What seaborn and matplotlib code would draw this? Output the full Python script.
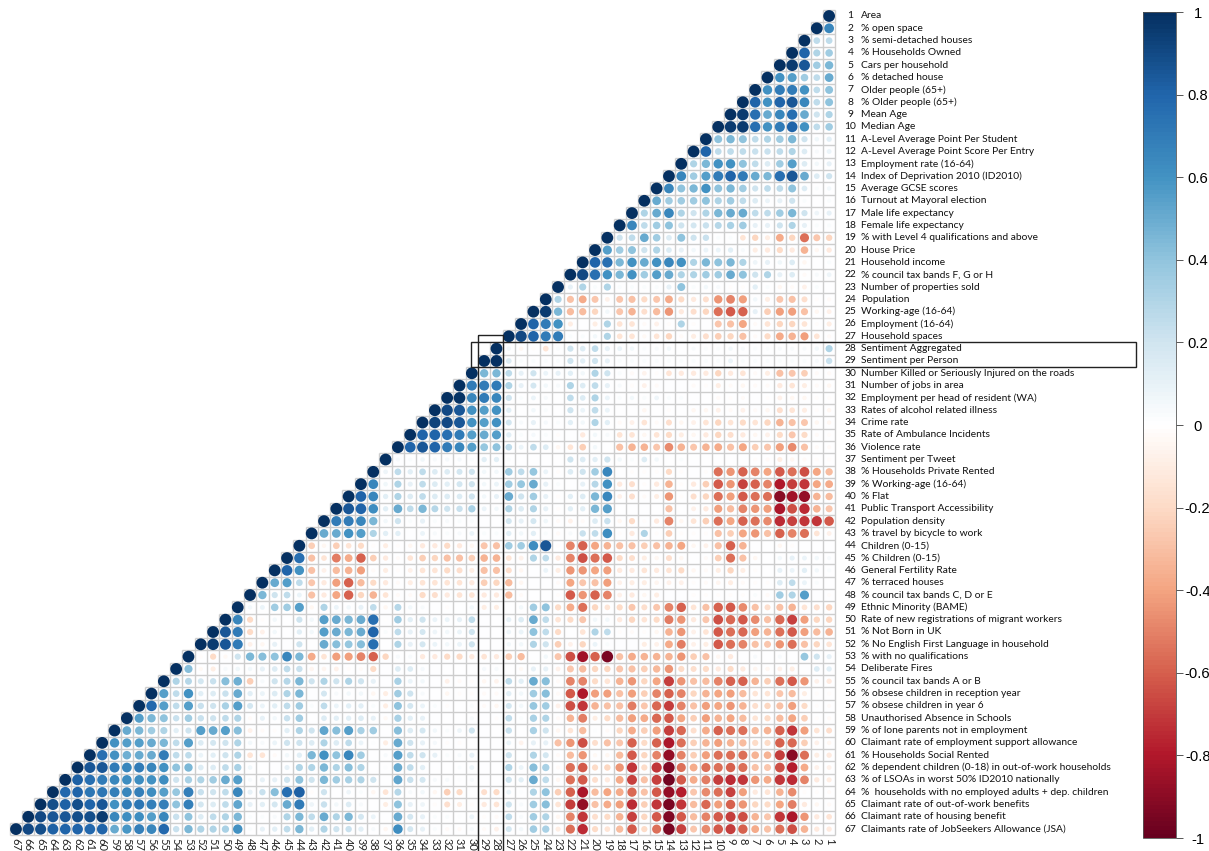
import matplotlib
matplotlib.use("Agg")
import matplotlib.pyplot as plt
from matplotlib.colors import LinearSegmentedColormap
from matplotlib.patches import Rectangle
import numpy as np
import pandas as pd
import seaborn as sns

# Correlation x100; each row reads left to right, from the diagonal to column 1
r01 = [100]
r02 = [100, 65]
r03 = [100, 25, 25]
r04 = [100, 80, 30, 35]
r05 = [100, 95, 85, 35, 45]
r06 = [100, 60, 55, 35, 25, 50]
r07 = [100, 60, 70, 70, 60, 25, 40]
r08 = [100, 80, 60, 80, 85, 65, 25, 40]
r09 = [100, 95, 75, 50, 65, 75, 50, 20, 30]
r10 = [100, 95, 95, 75, 60, 70, 80, 60, 25, 35]
r11 = [100, 40, 45, 40, 25, 30, 35, 45, 20, 6, 12]
r12 = [100, 80, 25, 25, 25, 22, 22, 25, 30, 15, 3, 8]
r13 = [100, 30, 45, 60, 60, 40, 25, 15, 35, 55, 15, 5, 10]
r14 = [100, 65, 35, 55, 70, 80, 70, 50, 45, 75, 85, 50, 15, 20]
r15 = [100, 65, 40, 45, 60, 40, 45, 35, 20, 25, 25, 40, 15, 2, 5]
r16 = [100, 50, 35, 35, 35, 40, 30, 35, 25, 15, 8, 10, 20, 2, 0, 2]
r17 = [100, 30, 50, 65, 30, 20, 30, 45, 50, 50, 25, 25, 35, 45, 20, 7, 10]
r18 = [100, 65, 25, 35, 40, 20, 18, 22, 28, 32, 35, 10, 10, 20, 30, 10, 2, 2]
r19 = [100, 20, 25, 50, 35, 15, 40, 20, 22, 2, 2, -15, -22, -10, -38, -22, -55, -28, -22]
r20 = [100, 55, 35, 40, 20, 30, 15, 10, 5, 8, 8, 12, 3, -10, -12, -20, -12, -35, -5, -12]
r21 = [100, 80, 75, 45, 60, 50, 60, 65, 60, 30, 45, 40, 45, 30, 7, 10, 6, 15, -5, 0, 2]
r22 = [100, 90, 75, 60, 45, 60, 35, 55, 50, 30, 30, 35, 35, 50, 40, 20, 30, 10, 15, -3, 3, 7]
r23 = [100, 10, 30, 2, 30, 2, 2, 2, 2, 10, 40, 2, 5, 3, -2, -2, 12, 2, -5, -3, -8, 2, 0]
r24 = [100, 30, -30, -38, -28, -8, -28, -30, -20, -28, -38, -20, -12, -18, -45, -50, -42, 5, -10, -28, -30, -18, -2, -3]
r25 = [100, 95, 45, -32, -32, -22, 5, -28, -35, -18, -32, -45, -12, -18, -22, -55, -62, -60, 10, -25, -42, -42, -30, -5, -8]
r26 = [100, 80, 70, 60, -10, 0, -10, 30, -15, -15, -3, -8, -2, 30, -2, 0, -28, -30, -40, -3, -15, -22, -22, -15, -2, -10]
r27 = [100, 90, 80, 70, 70, 2, 2, 5, 30, -15, -15, -4, -15, -22, -3, -10, -18, -25, -22, -30, -3, -20, -38, -35, -42, -15, -3]
r28 = [100, 5, -5, -2, -15, 2, 20, 15, 25, 10, 8, 5, 2, 3, 5, 0, 3, 2, 2, 5, 3, 2, 2, 3, 3, 3, 5, 30]
r29 = [100, 100, 15, 2, 2, 2, 2, 20, 12, 20, 10, 2, 2, 2, 2, 2, 2, 2, 2, 2, 8, 2, 2, 2, 2, 2, 2, 3, 22]
r30 = [100, 45, 45, 25, 10, 20, 8, 10, 12, 5, 30, 20, 2, -3, -7, -2, -15, -12, -12, -12, -22, -12, -15, -3, -10, -30, -28, -25, -3, -3]
r31 = [100, 70, 70, 70, 30, 10, 18, 5, 3, 30, 15, 25, 10, 3, -2, -8, -3, 0, 0, -3, -2, -10, -3, -5, -3, -3, -12, -15, -10, -3, -5]
r32 = [100, 98, 65, 70, 65, 20, 2, 8, 3, 0, 25, 15, 30, 8, 2, 5, 2, 7, 2, 2, 0, 0, -3, -2, -3, 0, -2, -8, -5, -5, -2, -2]
r33 = [100, 90, 85, 60, 55, 60, 12, 0, 5, 2, 0, 20, 8, 25, 8, 0, 0, -5, 0, -2, 0, -5, -5, -8, -3, -8, -3, -5, -18, -15, -10, -2, -5]
r34 = [100, 92, 90, 85, 60, 55, 60, 18, 3, 10, 4, 2, 12, 5, 30, 12, -3, -8, -15, -3, -18, -5, -8, -15, -22, -15, -20, -15, -22, -35, -30, -28, -5, -5]
r35 = [100, 80, 80, 75, 70, 55, 50, 55, 12, 2, 4, 2, -2, 0, -12, 5, 3, -15, -15, -5, -15, -20, -10, -5, -12, -22, -18, -12, -5, -8, -20, -28, -20, -3, -2]
r36 = [100, 80, 85, 80, 70, 65, 55, 38, 40, 25, 8, 25, 15, -5, -15, -25, 5, 0, -30, -35, -35, -28, -48, -35, -28, -35, -38, -30, -40, -25, -28, -42, -48, -30, -3, -3]
r37 = [100, 3, 2, 6, 3, 4, 4, 2, 12, 12, 2, 0, 0, 0, 0, 20, 15, 12, 20, 5, 2, 15, 5, 0, 2, 0, 0, 0, 0, 0, -2, -3, -10, -5, -3, -2, -2]
r38 = [100, 7, 25, 12, 25, 15, 15, 18, 20, 5, 5, 35, 25, 38, 8, -2, 15, 20, 35, 65, 0, -2, -2, -2, -20, -2, 0, -2, -55, -45, -60, -50, -40, -62, -55, -65, -40, -32]
r39 = [100, 65, 6, 30, 10, 25, 15, 12, 18, 20, 5, 8, 35, 38, 50, 10, 2, 0, 10, 28, 60, -12, -18, -2, -12, -35, -2, -12, -25, -62, -45, -68, -60, -50, -80, -70, -72, -40, -38]
r40 = [100, 80, 65, 12, 30, 15, 25, 15, 15, 15, 20, 5, 10, 50, 20, 35, 10, -2, 12, 15, 45, 65, -8, -18, -3, -10, -45, -2, -18, -22, -55, -42, -62, -55, -55, -90, -85, -88, -35, -32]
r41 = [100, 85, 80, 62, 12, 50, 25, 45, 28, 20, 22, 32, 8, 5, 30, 15, 30, 10, -2, 12, 12, 45, 55, 0, 0, 0, 0, -30, 0, -8, -12, -42, -32, -50, -45, -42, -82, -65, -75, -35, -28]
r42 = [100, 70, 70, 65, 45, 5, 20, 2, 10, 2, 3, 2, 2, 0, 0, 18, 10, 18, 6, -3, -8, -3, 15, 22, -5, -20, -2, -12, -50, -5, -15, -25, -55, -40, -60, -55, -48, -75, -68, -72, -72, -62]
r43 = [100, 50, 50, 60, 55, 30, 12, 12, 0, 8, 3, 2, 3, 8, 2, 2, 12, 5, 12, 2, -3, 3, 22, 25, 62, -2, -12, 30, -2, -25, -2, -2, -2, -30, -25, -40, -45, -30, -60, -50, -55, -15, -8]
r44 = [100, -25, -5, -25, -15, -20, -2, -10, -2, -5, -12, -12, -20, -12, -5, -28, -30, 35, 35, 62, 85, -2, -50, -60, -40, -35, -30, -30, -25, -30, -35, -40, -5, -8, -30, -60, -35, 0, 0, -5, -2, 0, 0, 0]
r45 = [100, 75, -30, -15, -52, -38, -60, -25, -12, -3, -15, -25, -22, -30, -30, -25, -35, -35, -15, -8, 30, 25, -12, -50, -65, -55, -62, -20, -18, -10, -5, -18, -5, 0, -3, -25, -55, -30, -5, 0, 5, 10, 8, 5, 3]
r46 = [100, 80, 60, -30, -8, -32, -35, -42, -3, -10, -2, -8, -15, -15, -20, -18, -10, -30, -30, -18, -5, 0, 8, -10, -45, -45, -40, -42, -12, -12, -15, -12, -15, -20, -5, -3, -10, -22, -10, -2, 0, 10, 8, 12, 5, 2]
r47 = [100, 50, 55, 25, -28, -12, -42, -60, -32, -20, -12, -3, -10, -15, -15, -15, -15, -12, -25, -22, -32, -5, 0, 0, -3, -40, -28, -30, -42, -8, -10, -10, -6, -8, -8, -2, -3, -6, -10, -3, -2, -2, 15, 25, 8, 2, 0]
r48 = [100, 45, 20, 25, 8, -30, -12, -40, -60, -22, -35, -15, -3, -3, -20, -18, -12, -15, -15, -12, -12, -32, -3, 0, 0, -2, -62, -45, -60, -50, -8, -12, -5, -10, 0, 0, -2, -2, -2, -2, -2, 2, -3, 35, 30, 55, 0, -2]
r49 = [100, 5, 8, 35, 35, 55, -5, 30, 8, 5, 10, 25, -5, 28, 5, 3, 0, -2, 0, 5, -10, -10, 0, 5, 35, 40, -20, -38, -55, -22, -15, -20, -28, -18, -28, -50, -60, -15, -30, -60, -62, -48, -30, -18, -30, -35, -15, -18, -22]
r50 = [100, 65, -20, -2, 5, 0, 20, 5, 55, 50, 45, 50, 75, -1, 35, 12, 20, 8, 8, 10, 25, 0, 0, 10, 15, 50, 25, -15, -20, -28, 5, 5, -12, -22, -15, -20, -52, -45, -12, -28, -65, -58, -62, -48, -30, -58, -68, -42, -22, -22]
r51 = [100, 85, 70, -20, -8, 5, 0, 12, 5, 55, 50, 45, 50, 80, 2, 25, 10, 18, 7, 5, 8, 20, 0, 0, 7, 8, 40, 25, -20, 0, -15, 30, 25, -2, -3, -2, -5, -35, -45, -8, -15, -62, -55, -58, -42, -35, -55, -62, -42, -32, -35]
r52 = [100, 95, 85, 70, -8, -5, 10, 0, 20, 0, 50, 42, 38, 42, 75, 0, 30, 10, 18, 8, 5, 8, 20, 0, 0, 5, 5, 30, 20, -25, -8, -22, 8, 2, 0, 0, -10, -8, -38, -52, -8, -10, -62, -55, -50, -30, -28, -45, -55, -30, -22, -15]
r53 = [100, -2, -20, -4, 20, 45, 42, 40, 65, 45, -38, -15, -42, -42, -50, -60, -22, 3, 3, -12, -12, -20, -20, -12, -15, -12, -25, -32, 0, 5, -28, -65, -85, -60, -95, -30, -38, -35, -35, -35, -45, -25, -30, -5, -12, 0, 3, 0, 3, 0, 38, 20, 10]
r54 = [100, 42, -4, -10, 3, 6, 5, 10, 15, 25, 22, -6, -6, -8, -2, -3, -20, 0, 15, 15, 4, 0, 0, 0, 0, 4, 3, 0, -4, 10, 10, -8, -28, -32, -22, -22, -28, -30, -25, -33, -45, -20, -18, -20, -12, -20, -12, -6, -5, -8, -10, 0, 15, 12]
r55 = [100, 30, 28, 18, 22, 42, 48, -25, 3, 20, 28, 45, 20, 30, 20, 30, 20, 10, 0, 32, 8, 5, 0, -8, -3, -2, -5, -7, 25, 12, 50, 42, -3, -50, -50, -20, -15, -35, -45, -22, -40, -70, -45, -30, -32, -50, -60, -60, -35, -25, -55, -62, -45, -8, -12]
r56 = [100, 55, 25, 60, 12, 15, 22, 50, 12, 8, 15, 30, 45, 0, 18, 3, 5, 5, -5, -10, 35, 20, 3, 0, -5, -2, -2, -3, -3, 12, 5, 35, 42, -3, -62, -80, -42, -42, -30, -42, -25, -50, -60, -50, -22, -35, -40, -42, -32, -15, -15, -28, -32, -10, -2, -2]
r57 = [100, 78, 55, 25, 55, 22, 20, 32, 55, 18, 8, 12, 25, 35, 2, 25, 8, 12, 12, 2, -10, 40, 18, 8, 2, -2, 0, 2, -3, -5, 18, 5, 38, 35, -8, -65, -72, -35, -30, -30, -52, -28, -58, -70, -50, -30, -42, -40, -45, -35, -18, -22, -30, -42, -20, -2, -3]
r58 = [100, 55, 45, 40, 22, 35, 22, 20, 25, 30, -3, 10, 5, 22, 35, 0, 15, 12, 12, 15, 10, -4, 32, 12, 10, 0, 0, 0, 3, 0, -2, 25, 2, 32, 30, -3, -35, -52, -10, -20, -32, -42, -38, -58, -62, -40, -25, -42, -35, -40, -32, -15, -20, -32, -40, -25, -2, -3]
r59 = [100, 50, 45, 35, 30, 12, 20, 55, 50, 55, 42, -8, -3, -2, 12, 30, 20, 52, 42, 55, 32, 35, 0, 42, 15, 18, 5, 2, 7, 20, 0, 0, 22, 0, 32, 20, -5, -15, -32, 1, -3, -22, -38, -25, -42, -70, -58, -18, -38, -60, -55, -55, -32, -35, -60, -72, -42, -15, -18]
r60 = [100, 60, 55, 55, 50, 45, 25, 55, 15, 18, 20, 30, 5, 3, 8, 20, 20, 15, 30, 15, 25, 8, 1, -10, 50, 20, 10, 4, -2, -2, 0, 0, 0, 8, -7, 10, 10, -30, -45, -65, -18, -30, -28, -60, -20, -60, -82, -55, -25, -35, -42, -35, -32, -20, -20, -60, -58, -25, -8, -5]
r61 = [100, 75, 60, 48, 50, 50, 70, 25, 25, 8, 12, 20, 30, -15, -15, -3, 5, 12, 45, 60, 40, 65, 35, 0, 3, 55, 25, 20, 10, 2, 3, 10, 0, 0, 20, 0, 30, 18, -3, -32, -45, -4, -5, -32, -62, -22, -50, -88, -50, -25, -42, -55, -55, -55, -35, -35, -70, -90, -55, -10, -12]
r62 = [100, 85, 85, 70, 65, 70, 65, 60, 40, 45, 15, 15, 25, 32, 6, 0, 0, 10, 30, 30, 45, 30, 42, 30, 0, 1, 50, 25, 12, 0, 0, 2, 8, 0, 0, 30, 8, 42, 32, -3, -55, -62, -20, -22, -45, -72, -20, -72, -92, -55, -38, -55, -55, -60, -55, -30, -28, -65, -78, -38, -8, -8]
r63 = [100, 82, 75, 70, 65, 62, 62, 60, 62, 20, 32, 30, 35, 50, 55, 3, 10, 10, 20, 40, 20, 45, 35, 32, 30, 20, 0, 52, 22, 18, 3, 3, 1, 3, 0, 0, 20, 12, 50, 25, -5, -55, -62, -18, -12, -38, -68, -30, -68, -97, -62, -38, -52, -70, -75, -72, -45, -38, -72, -75, -50, -12, -10]
r64 = [100, 78, 80, 72, 72, 68, 65, 68, 62, 55, 38, 68, 22, 20, 25, 65, 10, 22, 42, 75, 82, -2, 20, 0, 7, 2, -5, -15, 28, 3, 5, -5, -25, -20, 0, -18, -20, 8, 1, 30, 40, -25, -60, -82, -32, -40, -38, -58, -30, -62, -88, -78, -28, -48, -55, -68, -42, -12, -15, -35, -48, -2, -2, -3]
r65 = [100, 88, 82, 88, 80, 85, 60, 70, 72, 68, 68, 40, 68, 18, 15, 25, 52, 10, 12, 18, 50, 70, 7, 22, 5, 15, 3, 0, -10, 40, 10, 7, -2, -18, -10, -2, -12, -15, 20, 3, 35, 42, -15, -70, -88, -30, -38, -42, -75, -25, -72, -95, -72, -32, -58, -42, -60, -45, -22, -20, -40, -52, -12, -5, -3]
r66 = [100, 90, 85, 85, 88, 88, 95, 65, 62, 62, 55, 65, 22, 40, 15, 25, 30, 45, 2, 2, 3, 30, 45, 25, 50, 30, 45, 18, 8, 0, 50, 18, 10, 2, 2, 1, 8, -2, -3, 25, 3, 35, 30, -5, -50, -72, -18, -20, -35, -68, -22, -62, -92, -62, -32, -50, -62, -70, -65, -35, -28, -72, -82, -45, -12, -15]
r67 = [100, 90, 88, 82, 80, 80, 78, 80, 50, 58, 68, 65, 78, 22, 45, 30, 30, 32, 60, 2, 10, 12, 25, 45, 12, 30, 20, 22, 12, 3, -5, 62, 18, 10, 2, -3, -3, 3, -3, -8, 18, 5, 35, 32, -10, -55, -75, -20, -15, -32, -62, -20, -55, -95, -68, -28, -48, -62, -70, -60, -38, -30, -55, -65, -35, -12, -12]

rows = [r01, r02, r03, r04, r05, r06, r07, r08, r09, r10, r11, r12, r13, r14, r15, r16, r17, r18, r19, r20,
        r21, r22, r23, r24, r25, r26, r27, r28, r29, r30, r31, r32, r33, r34, r35, r36, r37, r38, r39, r40,
        r41, r42, r43, r44, r45, r46, r47, r48, r49, r50, r51, r52, r53, r54, r55, r56, r57, r58, r59, r60,
        r61, r62, r63, r64, r65, r66, r67]

labels = ["Area", "% open space", "% semi-detached houses", "% Households Owned", "Cars per household",
          "% detached house", "Older people (65+)", "% Older people (65+)", "Mean Age", "Median Age",
          "A-Level Average Point Per Student", "A-Level Average Point Score Per Entry", "Employment rate (16-64)",
          "Index of Deprivation 2010 (ID2010)", "Average GCSE scores", "Turnout at Mayoral election",
          "Male life expectancy", "Female life expectancy", "% with Level 4 qualifications and above",
          "House Price", "Household income", "% council tax bands F, G or H", "Number of properties sold",
          "Population", "Working-age (16-64)", "Employment (16-64)", "Household spaces", "Sentiment Aggregated",
          "Sentiment per Person", "Number Killed or Seriously Injured on the roads", "Number of jobs in area",
          "Employment per head of resident (WA)", "Rates of alcohol related illness", "Crime rate",
          "Rate of Ambulance Incidents", "Violence rate", "Sentiment per Tweet", "% Households Private Rented",
          "% Working-age (16-64)", "% Flat", "Public Transport Accessibility", "Population density",
          "% travel by bicycle to work", "Children (0-15)", "% Children (0-15)", "General Fertility Rate",
          "% terraced houses", "% council tax bands C, D or E", "Ethnic Minority (BAME)",
          "Rate of new registrations of migrant workers", "% Not Born in UK", "% No English First Language in household",
          "% with no qualifications", "Deliberate Fires", "% council tax bands A or B",
          "% obsese children in reception year", "% obsese children in year 6", "Unauthorised Absence in Schools",
          "% of lone parents not in employment", "Claimant rate of employment support allowance",
          "% Households Social Rented", "% dependent children (0-18) in out-of-work households",
          "% of LSOAs in worst 50% ID2010 nationally", "%  households with no employed adults + dep. children",
          "Claimant rate of out-of-work benefits", "Claimant rate of housing benefit",
          "Claimants rate of JobSeekers Allowance (JSA)"]

cbar_ticks = [1, 0.8, 0.6, 0.4, 0.2, 0, -0.2, -0.4, -0.6, -0.8, -1]
cbar_tick_text = ["1", "0.8", "0.6", "0.4", "0.2", "0", "-0.2", "-0.4", "-0.6", "-0.8", "-1"]

bad = [(i + 1, len(r)) for i, r in enumerate(rows) if len(r) != i + 1]
if bad:
    raise SystemExit(f"row length mismatch: {bad}")

n = len(rows)
W, H = 1209, 851
FONT = "Lato"
sns.set_theme(style="white")
plt.rcParams["font.family"] = FONT

cmap = LinearSegmentedColormap.from_list(
    "corr", ["#67001F", "#B2182B", "#D6604D", "#F4A582", "#FDDBC7", "#FFFFFF",
             "#D1E5F0", "#92C5DE", "#4393C3", "#2166AC", "#053061"], N=200)

records = []
for i, row in enumerate(rows, start=1):
    for k, v in enumerate(row):
        col = i - k
        records.append({"x": n - col + 0.5, "y": i - 0.5, "r": v / 100, "size": abs(v) / 100})
df = pd.DataFrame(records)

fig = plt.figure(figsize=(W / 100, H / 100), dpi=100, facecolor="white")
CELL = 12.32
L, T = 9.84, 9.84
ax = fig.add_axes([L / W, 1 - (T + n * CELL) / H, n * CELL / W, n * CELL / H])
cax = fig.add_axes([1143.3 / W, 1 - 838 / H, 32.4 / W, 826 / H])

mask = np.ones((n, n), dtype=bool)
for i in range(n):
    for j in range(n):
        if n - 1 - j <= i:
            mask[i, j] = False

sns.heatmap(np.zeros((n, n)), mask=mask, cmap=cmap, vmin=-1, vmax=1, square=False,
            cbar=True, cbar_ax=cax, xticklabels=False, yticklabels=False, ax=ax)

# Cell borders of the triangle only
GRID = dict(color="#CDCDCD", linewidth=1.0, zorder=2, clip_on=False)
for k in range(n + 1):
    ax.hlines(k, max(n - k - 1, 0), n, **GRID)
    ax.vlines(k, max(n - k - 1, 0), n, **GRID)

sns.scatterplot(data=df, x="x", y="y", hue="r", palette=cmap, hue_norm=(-1, 1), size="size",
                sizes=(7, 72), size_norm=(0, 1), linewidth=0, legend=False, ax=ax, clip_on=False, zorder=3)
ax.set_xlim(0, n)
ax.set_ylim(n, 0)
ax.set_xlabel("")
ax.set_ylabel("")
for s in ax.spines.values():
    s.set_visible(False)

# Row numbers and names on the right, column numbers below
to_x = lambda px: (px - L) / CELL
to_y = lambda px: (px - T) / CELL
for i, lab in enumerate(labels, start=1):
    ax.text(to_x(850.5), i - 0.5, str(i), ha="center", va="center", fontsize=7.4, color="#111111", clip_on=False)
    ax.text(to_x(861), i - 0.5, lab, ha="left", va="center", fontsize=7.4, color="#111111", clip_on=False)
for col in range(1, n + 1):
    ax.text(n - col + 0.5, to_y(838.5), str(col), rotation=270, ha="center", va="top", fontsize=8.0,
            color="#222222", clip_on=False)

# Outlines around the two sentiment rows and columns
box = dict(fill=False, edgecolor="#222222", linewidth=1.0, clip_on=False, zorder=4)
ax.add_patch(Rectangle((to_x(470.7), 27), to_x(1136) - to_x(470.7), 2, **box))
ax.add_patch(Rectangle((38, to_y(335)), 2, to_y(853) - to_y(335), **box))

# Colour bar
cb = ax.collections[0].colorbar
cb.set_ticks(cbar_ticks)
cb.set_ticklabels(cbar_tick_text)
cb.outline.set_edgecolor("#555555")
cb.outline.set_linewidth(0.6)
cax.tick_params(axis="y", right=True, length=4.8, width=0.7, color="#555555", pad=11, labelsize=10.6, labelcolor="black")
for t in cax.get_yticklabels():
    t.set_ha("center")
    t.set_fontfamily("Liberation Sans")

fig.savefig("out.png", dpi=100, facecolor="white")
